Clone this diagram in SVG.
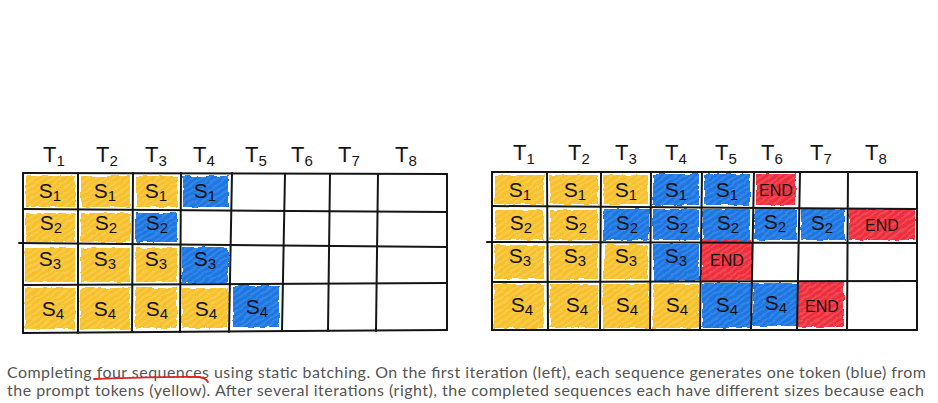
<svg xmlns="http://www.w3.org/2000/svg" width="938" height="403" viewBox="0 0 938 403">
<style>
.grid line{stroke:#151515;stroke-width:2;stroke-linecap:round}
.y{fill:url(#hy)}
.b{fill:url(#hb)}
.r{fill:url(#hr)}
.fills{filter:url(#rough)}
.hd{font-family:"Liberation Sans","DejaVu Sans",sans-serif;font-size:22px;fill:#151515}
.hd tspan{font-size:15px}
.lb{font-family:"Liberation Sans","DejaVu Sans",sans-serif;font-size:21px;fill:#111;text-anchor:middle}
.lb tspan{font-size:15px}
.end{font-family:"Liberation Sans","DejaVu Sans",sans-serif;font-size:16px;fill:#111;text-anchor:middle}
.cap{font-family:Lato,"Noto Sans",sans-serif;font-size:16px;fill:#555}
</style>
<defs>
<pattern id="hy" width="5" height="5" patternUnits="userSpaceOnUse" patternTransform="rotate(-35)">
<rect width="5" height="5" fill="#F7C12F"/><line x1="0" y1="1" x2="5" y2="1" stroke="#FAD565" stroke-width="1"/>
</pattern>
<pattern id="hb" width="5" height="5" patternUnits="userSpaceOnUse" patternTransform="rotate(-35)">
<rect width="5" height="5" fill="#1F77E3"/><line x1="0" y1="1" x2="5" y2="1" stroke="#4B95EC" stroke-width="1"/>
</pattern>
<pattern id="hr" width="5" height="5" patternUnits="userSpaceOnUse" patternTransform="rotate(-35)">
<rect width="5" height="5" fill="#EF2F3D"/><line x1="0" y1="1" x2="5" y2="1" stroke="#F4636E" stroke-width="1"/>
</pattern>
<filter id="rough" x="-5%" y="-5%" width="110%" height="110%">
<feTurbulence type="fractalNoise" baseFrequency="0.12" numOctaves="2" seed="3"/>
<feDisplacementMap in="SourceGraphic" scale="4" xChannelSelector="R" yChannelSelector="G"/>
</filter>
</defs>
<rect width="938" height="403" fill="#fff"/>

<!-- LEFT GRID -->
<g id="left-batch">
<g id="left-headers" class="hd">
<text x="43" y="162">T<tspan dy="4">1</tspan></text>
<text x="96" y="162">T<tspan dy="4">2</tspan></text>
<text x="145" y="162">T<tspan dy="4">3</tspan></text>
<text x="193" y="162">T<tspan dy="4">4</tspan></text>
<text x="245" y="162">T<tspan dy="4">5</tspan></text>
<text x="291" y="162">T<tspan dy="4">6</tspan></text>
<text x="338" y="162">T<tspan dy="4">7</tspan></text>
<text x="395" y="162">T<tspan dy="4">8</tspan></text>
</g>
<g class="fills" id="left-fills">
<rect class="y" x="26" y="176" width="49" height="31"/>
<rect class="y" x="81" y="176" width="49" height="31"/>
<rect class="y" x="136" y="176" width="41" height="31"/>
<rect class="b" x="183" y="176" width="45" height="31"/>
<rect class="y" x="26" y="213" width="49" height="29"/>
<rect class="y" x="81" y="213" width="49" height="29"/>
<rect class="b" x="136" y="213" width="41" height="29"/>
<rect class="y" x="25" y="248" width="50" height="34"/>
<rect class="y" x="81" y="248" width="49" height="34"/>
<rect class="y" x="136" y="248" width="41" height="34"/>
<rect class="b" x="182" y="247" width="46" height="36"/>
<rect class="y" x="25" y="288" width="50" height="41"/>
<rect class="y" x="80" y="288" width="50" height="41"/>
<rect class="y" x="135" y="288" width="42" height="40"/>
<rect class="y" x="182" y="288" width="46" height="40"/>
<rect class="b" x="233" y="286" width="46" height="41"/>
</g>
<g class="grid" id="left-lines">
<line x1="23" y1="173" x2="447" y2="174"/>
<line x1="23" y1="209" x2="447" y2="212"/>
<line x1="19" y1="243" x2="447" y2="247"/>
<line x1="23" y1="285" x2="447" y2="283"/>
<line x1="23" y1="333" x2="447" y2="330"/>
<line x1="23" y1="173" x2="23" y2="333"/>
<line x1="78" y1="173" x2="78" y2="333"/>
<line x1="133" y1="173" x2="132" y2="332"/>
<line x1="181" y1="173" x2="180" y2="332"/>
<line x1="232" y1="173" x2="229" y2="332"/>
<line x1="285" y1="174" x2="282" y2="331"/>
<line x1="330" y1="174" x2="328" y2="331"/>
<line x1="378" y1="174" x2="376" y2="331"/>
<line x1="447" y1="174" x2="447" y2="330"/>
</g>
<g id="left-labels" class="lb">
<text x="50" y="198">S<tspan dy="3">1</tspan></text>
<text x="105" y="198">S<tspan dy="3">1</tspan></text>
<text x="156" y="198">S<tspan dy="3">1</tspan></text>
<text x="205" y="198">S<tspan dy="3">1</tspan></text>
<text x="51" y="230">S<tspan dy="3">2</tspan></text>
<text x="106" y="230">S<tspan dy="3">2</tspan></text>
<text x="157" y="230">S<tspan dy="3">2</tspan></text>
<text x="50" y="266">S<tspan dy="3">3</tspan></text>
<text x="105" y="266">S<tspan dy="3">3</tspan></text>
<text x="156" y="266">S<tspan dy="3">3</tspan></text>
<text x="205" y="266">S<tspan dy="3">3</tspan></text>
<text x="53" y="316">S<tspan dy="3">4</tspan></text>
<text x="105" y="316">S<tspan dy="3">4</tspan></text>
<text x="157" y="316">S<tspan dy="3">4</tspan></text>
<text x="206" y="316">S<tspan dy="3">4</tspan></text>
<text x="257" y="314">S<tspan dy="3">4</tspan></text>
</g>
</g>

<!-- RIGHT GRID -->
<g id="right-batch">
<g id="right-headers" class="hd">
<text x="513" y="160">T<tspan dy="4">1</tspan></text>
<text x="568" y="160">T<tspan dy="4">2</tspan></text>
<text x="615" y="160">T<tspan dy="4">3</tspan></text>
<text x="665" y="160">T<tspan dy="4">4</tspan></text>
<text x="715" y="160">T<tspan dy="4">5</tspan></text>
<text x="761" y="160">T<tspan dy="4">6</tspan></text>
<text x="810" y="160">T<tspan dy="4">7</tspan></text>
<text x="865" y="160">T<tspan dy="4">8</tspan></text>
</g>
<g class="fills" id="right-fills">
<rect class="y" x="495" y="175" width="49" height="29"/>
<rect class="y" x="550" y="175" width="48" height="29"/>
<rect class="y" x="604" y="175" width="44" height="29"/>
<rect class="b" x="653" y="174" width="46" height="31"/>
<rect class="b" x="704" y="174" width="46" height="31"/>
<rect class="r" x="756" y="174" width="40" height="31"/>
<rect class="y" x="495" y="210" width="49" height="30"/>
<rect class="y" x="550" y="210" width="48" height="30"/>
<rect class="b" x="603" y="209" width="46" height="31"/>
<rect class="b" x="653" y="209" width="46" height="31"/>
<rect class="b" x="703" y="209" width="47" height="31"/>
<rect class="b" x="755" y="209" width="42" height="31"/>
<rect class="b" x="801" y="209" width="44" height="31"/>
<rect class="r" x="849" y="209" width="66" height="31"/>
<rect class="y" x="494" y="245" width="50" height="34"/>
<rect class="y" x="550" y="245" width="48" height="34"/>
<rect class="y" x="604" y="245" width="44" height="34"/>
<rect class="b" x="653" y="244" width="46" height="37"/>
<rect class="r" x="702" y="240" width="50" height="41"/>
<rect class="y" x="494" y="284" width="50" height="44"/>
<rect class="y" x="550" y="284" width="48" height="44"/>
<rect class="y" x="603" y="284" width="46" height="44"/>
<rect class="y" x="653" y="284" width="46" height="44"/>
<rect class="b" x="702" y="283" width="49" height="45"/>
<rect class="b" x="753" y="283" width="45" height="43"/>
<rect class="r" x="798" y="281" width="46" height="46"/>
</g>
<g class="grid" id="right-lines">
<line x1="492" y1="172" x2="917" y2="172"/>
<line x1="492" y1="206" x2="917" y2="209"/>
<line x1="487" y1="242" x2="917" y2="243"/>
<line x1="492" y1="282" x2="917" y2="281"/>
<line x1="492" y1="330" x2="917" y2="330"/>
<line x1="492" y1="172" x2="492" y2="330"/>
<line x1="547" y1="172" x2="548" y2="330"/>
<line x1="601" y1="172" x2="600" y2="330"/>
<line x1="651" y1="172" x2="650" y2="330"/>
<line x1="702" y1="172" x2="700" y2="330"/>
<line x1="754" y1="172" x2="751" y2="330"/>
<line x1="800" y1="172" x2="797" y2="330"/>
<line x1="848" y1="172" x2="847" y2="330"/>
<line x1="917" y1="172" x2="917" y2="330"/>
</g>
<g id="right-labels" class="lb">
<text x="520" y="197">S<tspan dy="3">1</tspan></text>
<text x="575" y="197">S<tspan dy="3">1</tspan></text>
<text x="626" y="197">S<tspan dy="3">1</tspan></text>
<text x="676" y="197">S<tspan dy="3">1</tspan></text>
<text x="727" y="197">S<tspan dy="3">1</tspan></text>
<text x="521" y="230">S<tspan dy="3">2</tspan></text>
<text x="576" y="230">S<tspan dy="3">2</tspan></text>
<text x="627" y="230">S<tspan dy="3">2</tspan></text>
<text x="677" y="230">S<tspan dy="3">2</tspan></text>
<text x="728" y="230">S<tspan dy="3">2</tspan></text>
<text x="775" y="229">S<tspan dy="3">2</tspan></text>
<text x="822" y="230">S<tspan dy="3">2</tspan></text>
<text x="520" y="263">S<tspan dy="3">3</tspan></text>
<text x="575" y="263">S<tspan dy="3">3</tspan></text>
<text x="626" y="263">S<tspan dy="3">3</tspan></text>
<text x="676" y="263">S<tspan dy="3">3</tspan></text>
<text x="522" y="312">S<tspan dy="3">4</tspan></text>
<text x="577" y="312">S<tspan dy="3">4</tspan></text>
<text x="627" y="312">S<tspan dy="3">4</tspan></text>
<text x="677" y="312">S<tspan dy="3">4</tspan></text>
<text x="727" y="312">S<tspan dy="3">4</tspan></text>
<text x="776" y="310">S<tspan dy="3">4</tspan></text>
</g>
<g id="right-ends" class="end">
<text x="776" y="196">END</text>
<text x="882" y="231">END</text>
<text x="727" y="266">END</text>
<text x="822" y="312">END</text>
</g>
</g>

<!-- CAPTION -->
<g id="caption">
<text class="cap" x="7" y="378" textLength="919" lengthAdjust="spacing">Completing four sequences using static batching. On the first iteration (left), each sequence generates one token (blue) from</text>
<text class="cap" x="7" y="396" textLength="917" lengthAdjust="spacing">the prompt tokens (yellow). After several iterations (right), the completed sequences each have different sizes because each</text>
<path d="M94,379 C130,378 170,376 199,377 Q206,378 208,382" fill="none" stroke="#E02525" stroke-width="1.8" stroke-linecap="round"/>
</g>
</svg>
